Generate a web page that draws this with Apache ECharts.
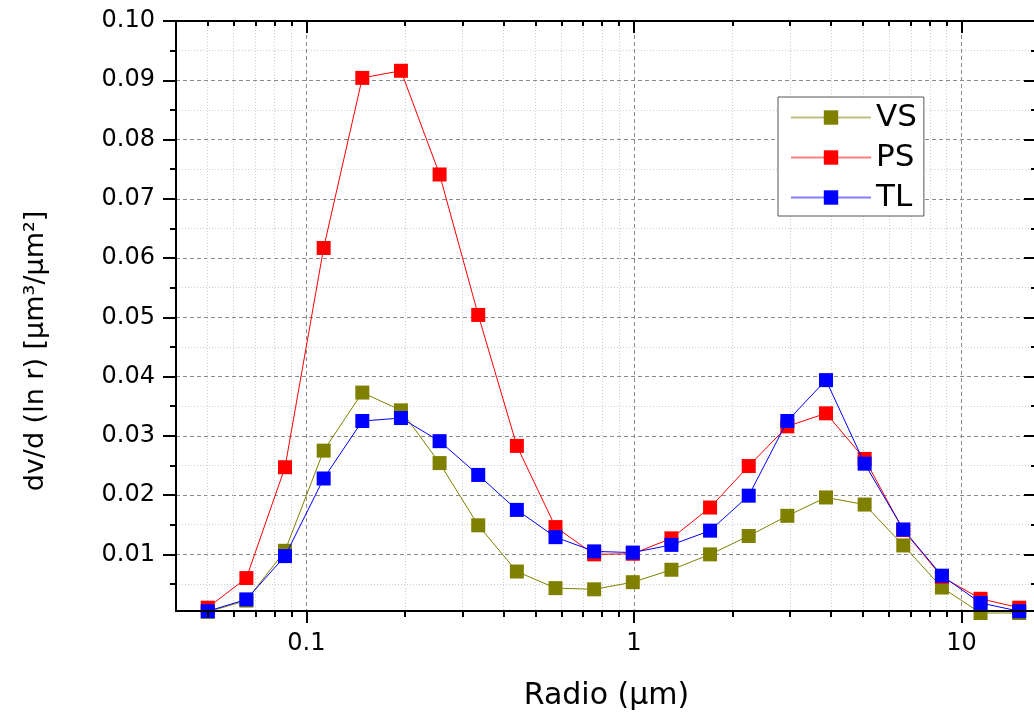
<!DOCTYPE html>
<html>
<head>
<meta charset="utf-8">
<script src="https://cdn.jsdelivr.net/npm/echarts@6/dist/echarts.min.js"></script>
<style>
  html, body { margin: 0; padding: 0; background: #ffffff; }
  #chart { width: 1034px; height: 715px; }
</style>
</head>
<body>
<div id="chart"></div>
<script>
// Particle radius bins (µm)
const radius = [0.05, 0.065604, 0.086077, 0.112939, 0.148184, 0.194429, 0.255105, 0.334716,
  0.439173, 0.576227, 0.756052, 0.991996, 1.301571, 1.707757, 2.240702, 2.939966,
  3.857452, 5.06126, 6.640745, 8.713145, 11.432287, 15.0];

// Volume size distributions dV/dlnr (µm³/µm²)
const vs = [0.0003, 0.0022, 0.0106, 0.0275, 0.0373, 0.0343, 0.0254, 0.0149, 0.0071, 0.0043, 0.0041,
  0.0053, 0.0074, 0.0100, 0.0131, 0.0165, 0.0196, 0.0184, 0.0115, 0.0044, 0.0001, 0.0001];
const ps = [0.0010, 0.0060, 0.0247, 0.0617, 0.0904, 0.0916, 0.0741, 0.0504, 0.0283, 0.0146, 0.0100,
  0.0101, 0.0127, 0.0179, 0.0249, 0.0316, 0.0338, 0.0261, 0.0141, 0.0062, 0.0025, 0.0010];
const tl = [0.0004, 0.0024, 0.0097, 0.0228, 0.0325, 0.0330, 0.0291, 0.0234, 0.0175, 0.0129, 0.0105,
  0.0103, 0.0116, 0.0140, 0.0199, 0.0325, 0.0394, 0.0253, 0.0142, 0.0064, 0.0018, 0.0004];

const seriesNames = ['VS', 'PS', 'TL'];
const seriesColors = ['#808000', '#ff0000', '#0000ff'];

// Axis ranges and tick positions
const xRange = [0.04, 17];
const yRange = [0.00044, 0.1];
const xMajorTicks = [0.1, 1, 10];
const xMinorTicks = [0.05, 0.06, 0.07, 0.08, 0.09, 0.2, 0.3, 0.4, 0.5, 0.6, 0.7, 0.8, 0.9,
  2, 3, 4, 5, 6, 7, 8, 9];
const yMajorTicks = [0.01, 0.02, 0.03, 0.04, 0.05, 0.06, 0.07, 0.08, 0.09, 0.10];
const yMinorTicks = [0.005, 0.015, 0.025, 0.035, 0.045, 0.055, 0.065, 0.075, 0.085, 0.095];

const FONT = 'DejaVu Sans';
const majorGrid = { show: true, lineStyle: { color: '#8a8a8a', width: 1, type: [4, 3] } };
const minorGrid = { show: true, lineStyle: { color: '#cfcfcf', width: 1, type: [1, 2] } };
const frameLine = { show: true, onZero: false, lineStyle: { color: '#000', width: 2 } };
const noLine = { show: false, onZero: false };

function xAxis(o) {
  return {
    type: 'log', logBase: 10, min: xRange[0], max: xRange[1], position: o.position,
    z: o.z || 0,
    axisLine: o.line ? frameLine : noLine,
    axisTick: o.ticks ? { show: true, inside: !!o.inside, length: o.len,
      lineStyle: { color: '#000', width: 2 }, customValues: o.ticks } : { show: false, customValues: o.values },
    axisLabel: o.labels ? { show: true, customValues: o.labels, margin: 21,
      fontFamily: FONT, fontSize: 24, color: '#000',
      formatter: v => (v >= 1 ? Math.round(v).toString() : String(+(+v).toPrecision(3))) } : { show: false },
    splitLine: o.split || { show: false },
    name: o.name || '',
    nameLocation: 'middle', nameGap: o.nameGap || 0,
    nameTextStyle: { fontFamily: FONT, fontSize: 30, color: '#000' }
  };
}
function yAxis(o) {
  return {
    type: 'value', min: yRange[0], max: yRange[1], position: o.position,
    z: o.z || 0,
    axisLine: o.line ? frameLine : noLine,
    axisTick: o.ticks ? { show: true, inside: !!o.inside, length: o.len,
      lineStyle: { color: '#000', width: 2 }, customValues: o.ticks } : { show: false, customValues: o.values },
    axisLabel: o.labels ? { show: true, customValues: o.labels, margin: 21,
      fontFamily: FONT, fontSize: 24, color: '#000', formatter: v => (+v).toFixed(2) } : { show: false },
    splitLine: o.split || { show: false },
    name: o.name || '',
    nameLocation: 'middle', nameGap: o.nameGap || 0, nameRotate: 90,
    nameTextStyle: { fontFamily: FONT, fontSize: 27, color: '#000', padding: [0, 70, 0, 0] }
  };
}

const chart = echarts.init(document.getElementById('chart'), null, { renderer: 'canvas' });
chart.setOption({
  backgroundColor: '#ffffff',
  animation: false,
  grid: { left: 176, top: 21, right: -3, bottom: 104, containLabel: false, outerBoundsMode: 'none' },
  xAxis: [
    xAxis({ position: 'bottom', values: xMajorTicks, split: majorGrid }),
    xAxis({ position: 'bottom', values: xMinorTicks, split: minorGrid }),
    xAxis({ position: 'bottom', z: 10, line: true, ticks: xMajorTicks, len: 12, labels: xMajorTicks,
      name: 'Radio (µm)', nameGap: 70 }),
    xAxis({ position: 'bottom', z: 10, ticks: xMinorTicks, len: 6 }),
    xAxis({ position: 'top', z: 10, line: true, ticks: xMajorTicks, len: 12, inside: true }),
    xAxis({ position: 'top', z: 10, ticks: xMinorTicks, len: 5, inside: true })
  ],
  yAxis: [
    yAxis({ position: 'left', values: yMajorTicks, split: majorGrid }),
    yAxis({ position: 'left', values: yMinorTicks, split: minorGrid }),
    yAxis({ position: 'left', z: 10, line: true, ticks: yMajorTicks, len: 13, labels: yMajorTicks,
      name: 'dv/d (ln r) [µm³/µm²]', nameGap: 127 }),
    yAxis({ position: 'left', z: 10, ticks: yMinorTicks, len: 6 }),
    yAxis({ position: 'right', z: 10, line: true, ticks: yMajorTicks, len: 13, inside: true }),
    yAxis({ position: 'right', z: 10, ticks: yMinorTicks, len: 6, inside: true })
  ],
  legend: {
    orient: 'vertical', left: 778, top: 97,
    padding: [5, 7, 3, 12],
    itemWidth: 80, itemHeight: 18, itemGap: 9,
    borderColor: '#555', borderWidth: 1, backgroundColor: '#fff',
    lineStyle: { width: 2, opacity: 0.5 },
    textStyle: { fontFamily: FONT, fontSize: 31, lineHeight: 30, color: '#000' },
    data: seriesNames
  },
  series: [vs, ps, tl].map((vals, i) => ({
    name: seriesNames[i], type: 'line',
    xAxisIndex: 0, yAxisIndex: 0,
    data: radius.map((r, k) => [r, vals[k]]),
    symbol: 'rect', symbolSize: 14, clip: false,
    itemStyle: { color: seriesColors[i] },
    lineStyle: { color: seriesColors[i], width: 1 },
    z: 2 + i
  }))
});
</script>
</body>
</html>
